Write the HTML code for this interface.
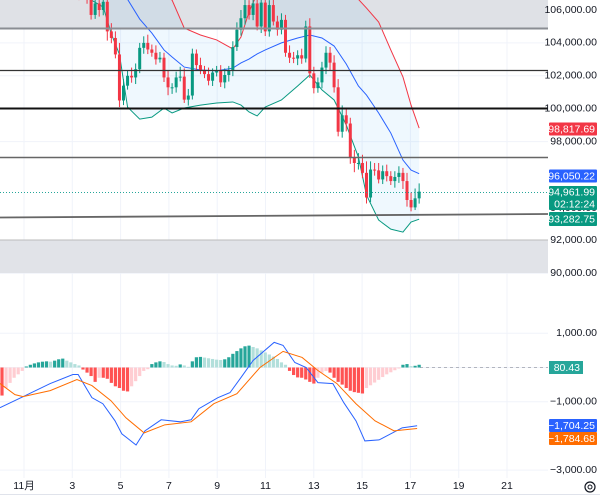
<!DOCTYPE html>
<html><head><meta charset="utf-8">
<style>
html,body{margin:0;padding:0;background:#fff;}
svg{display:block;font-family:"Liberation Sans","Noto Sans CJK SC",sans-serif;}
</style></head>
<body>
<svg id="chart" width="600" height="497" viewBox="0 0 600 497" xmlns="http://www.w3.org/2000/svg">
  <g id="grid"></g>
  <rect x="0" y="0" width="548" height="28" fill="#dfe1e6"/>
  <rect x="0" y="240" width="548" height="33" fill="#e1e3e8"/>
  <line x1="0" y1="240" x2="548" y2="240" stroke="#bbb" stroke-width="1"/>
  <g id="bands"></g>
  <g id="candles"></g>
  <g>
    <line x1="0" y1="28.5" x2="548" y2="28.5" stroke="#8a8d93" stroke-width="2"/>
    <line x1="0" y1="70.5" x2="548" y2="70.5" stroke="#333" stroke-width="1.2"/>
    <line x1="0" y1="108.5" x2="548" y2="108.5" stroke="#111" stroke-width="2"/>
    <line x1="0" y1="157.5" x2="548" y2="157.5" stroke="#666" stroke-width="1.5"/>
    <line x1="0" y1="192.5" x2="548" y2="192.5" stroke="#26a69a" stroke-width="1" stroke-dasharray="1,2"/>
    <line x1="0" y1="217.5" x2="548" y2="214" stroke="#666" stroke-width="1.8"/>
  </g>
  <g id="macd"></g>
  <g id="axis"></g>
  <line x1="0" y1="494.5" x2="600" y2="494.5" stroke="#e0e3eb"/>
  <g>
    <circle cx="590" cy="487" r="5" fill="none" stroke="#131722" stroke-width="1.2"/>
    <circle cx="590" cy="487" r="2" fill="none" stroke="#131722" stroke-width="1"/>
  </g>
</svg>
<script>
// ---- data ----
const closes = [107200,107500,107000,107800,108000,107600,107300,107900,108200,107700,
107400,107600,108100,107800,107500,107200,107600,107900,107300,107000,
106900,106700,105700,106400,106000,106500,104700,104300,103300,100500,
101400,102000,101900,102400,103700,104000,103600,103400,103000,103100,
101900,101300,101300,101900,101950,100550,100800,103350,102650,102300,
102100,101700,102200,102300,101600,102050,102300,103750,104800,105500,
106300,105700,106400,105000,106450,104700,106300,105300,104800,105400,
103400,103100,103050,103250,103050,105000,102150,101250,101600,102500,
103400,102800,101300,98600,99600,99100,97050,96700,96700,96100,
94600,96300,96250,95700,96200,95900,95600,95850,96100,95600,
94450,94000,94550,94960];
const wicks = [300,200,400,250,300,350,200,450,300,250,
300,400,200,350,300,250,400,300,200,350,
300,450,500,300,400,350,300,500,400,700,
400,300,500,350,300,400,500,300,450,350,
300,400,250,350,600,500,400,300,250,450,
300,400,250,300,350,400,300,350,450,500,
400,300,450,500,350,400,300,500,350,400,
300,450,350,300,400,350,500,400,300,350,
400,350,450,500,600,400,350,450,600,500,
700,500,400,450,350,400,300,350,400,300,
500,450,600,500];
const bandIdx = [0,10,20,25,27,29,31,34,37,40,42,45,49,53,57,59,61,63,65,69,73,76,79,82,85,88,90,93,96,99,101,103];
const bandMid = [107600,107700,107400,107100,107000,106900,106650,105450,104600,103570,103140,102530,102350,102300,102470,102780,103020,103330,103570,104000,104300,104480,104300,103810,102720,101380,100830,99740,98520,96880,96270,96050];
const bandUpper = [108600,108700,108500,108300,108000,107800,107600,107400,107200,106900,106600,104900,104480,104180,103630,104360,105880,107000,108000,108500,108700,108800,108600,108300,107600,106650,106120,105270,103570,101930,100220,98818];
const bandLower = [107000,107100,106900,106180,104540,103300,100100,99370,99490,100040,99740,100040,100220,100350,100410,100220,99800,99560,100100,100530,101380,102050,101140,100530,99010,97060,94750,93230,92680,92500,93110,93283];
const macdIdx = [-0.5,5.2,11.9,17.5,18.8,22.2,24.9,27.9,29.6,33.1,35.3,39.3,44,46.7,48.6,53.3,56.3,59,62,67.2,69.4,72.3,75.1,78,81.7,84.4,87.4,89.6,93.1,98.8,102.5];
const macdVals = [-1176,-853,-470,-206,-206,-882,-1059,-1559,-1941,-2265,-1853,-1529,-1588,-1529,-1206,-882,-735,-294,206,735,647,147,0,-441,-470,-1029,-1559,-2147,-2118,-1765,-1704];
const signalIdx = [-0.5,3.2,5.2,11.9,18.5,22.2,26.9,30.6,35.1,40.2,46.7,52.3,58,63.7,69.4,74.1,78,82.7,87.4,92.1,96.8,102.5];
const signalVals = [-470,-794,-853,-676,-353,-529,-971,-1471,-1912,-1676,-1588,-1059,-765,0,471,294,-88,-470,-1059,-1559,-1853,-1785];
const histVals = [-820,-600,-450,-300,-200,-100,30,80,120,150,
170,180,170,200,240,260,200,150,100,60,
-60,-150,-250,-420,-300,-300,-330,-450,-550,-600,
-680,-700,-550,-400,-250,-100,-50,100,150,180,
160,100,60,50,90,60,20,180,300,310,
290,270,250,230,220,240,300,400,480,560,
620,640,600,560,500,440,380,320,250,150,
80,-100,-220,-290,-300,-350,-420,-470,-300,-150,
-100,-150,-300,-420,-500,-600,-680,-720,-740,-760,
-600,-520,-440,-360,-280,-200,-140,-80,-30,80,
100,40,50,80];
const priceTicks = [106000,104000,102000,100000,98000,92000,90000];
const macdTicks = [1000,-1000,-3000];
const dayLabels = ["11月","3","5","7","9","11","13","15","17","19","21"];
const dayIndex = [0,2,4,6,8,10,12,14,16,18,20];

// ---- scales ----
const X = i => 2 + 4.05*i;
const dayX = d => 24 + 24.15*d/2*2/2*1; // d in day offset from 11月1日
const PY = p => 10 + (106000 - p)*0.01645;
const MY = v => 367.5 - v*0.0342;
const NS = "http://www.w3.org/2000/svg";
function mk(tag, attrs, parent){const e=document.createElementNS(NS,tag);for(const k in attrs)e.setAttribute(k,attrs[k]);parent.appendChild(e);return e;}

// grid
const grid = document.getElementById('grid');
priceTicks.forEach(p=>{const l=mk('line',{x1:0,x2:548,y1:PY(p),y2:PY(p),stroke:'#f0f3fa'},grid);

});
macdTicks.concat([0]).forEach(v=>{const l=mk('line',{x1:0,x2:548,y1:MY(v),y2:MY(v),stroke:'#f0f3fa'},grid);

});
dayIndex.forEach(d=>{const x=24+24.15*d;const l=mk('line',{x1:x,x2:x,y1:0,y2:478,stroke:'#f0f3fa'},grid);

});

// clip
const defs = mk('defs',{},document.getElementById('chart'));
const cp = mk('clipPath',{id:'pclip'},defs);
mk('rect',{x:0,y:0,width:548,height:285},cp);

// bands
const bands = document.getElementById('bands');
bands.setAttribute('clip-path','url(#pclip)');
const up = bandIdx.map((i,k)=>[X(i),PY(bandUpper[k])]);
const lo = bandIdx.map((i,k)=>[X(i),PY(bandLower[k])]);
const md = bandIdx.map((i,k)=>[X(i),PY(bandMid[k])]);
const fill = mk('polygon',{points:up.concat(lo.slice().reverse()).map(p=>p.join(',')).join(' '),fill:'rgba(33,150,243,0.07)'},bands);


[[up,'#f23645','upper-band'],[md,'#2962ff','middle-band'],[lo,'#089981','lower-band']].forEach(([pts,c,n])=>{
  const pl=mk('polyline',{points:pts.map(p=>p.join(',')).join(' '),fill:'none',stroke:c,'stroke-width':1},bands);
  
  
});

// candles
const cg = document.getElementById('candles');
cg.setAttribute('clip-path','url(#pclip)');
closes.forEach((c,i)=>{
  const o = i===0 ? c+300 : closes[i-1];
  const hi = Math.max(o,c)+wicks[i], lw = Math.min(o,c)-wicks[(i+3)%wicks.length]*0.8;
  const col = c>=o ? '#089981' : '#f23645';
  const x = X(i);
  const g = mk('g',{},cg);
  
  
  mk('line',{x1:x,x2:x,y1:PY(hi),y2:PY(lw),stroke:col,'stroke-width':1},g);
  const y1=PY(Math.max(o,c)), y2=PY(Math.min(o,c));
  mk('rect',{x:x-1.5,y:y1,width:3,height:Math.max(1,y2-y1),fill:col},g);
});

// macd
const mg = document.getElementById('macd');
const zl = mk('line',{x1:420,x2:548,y1:MY(0),y2:MY(0),stroke:'#b2b5be','stroke-dasharray':'3,3'},mg);


histVals.forEach((v,i)=>{
  const prev = i>0?histVals[i-1]:v;
  let col;
  if(v>=0) col = v>=prev ? '#26a69a' : '#b2dfdb';
  else col = v<=prev ? '#ff5252' : '#ffcdd2';
  const y0=MY(0), y=MY(v);
  const r = mk('rect',{x:X(i)-1.6,y:Math.min(y0,y),width:3.2,height:Math.max(0.8,Math.abs(y-y0)),fill:col},mg);
  
  
});
const ml = mk('polyline',{points:macdIdx.map((i,k)=>X(i)+','+MY(macdVals[k])).join(' '),fill:'none',stroke:'#2962ff','stroke-width':1},mg);


const sl = mk('polyline',{points:signalIdx.map((i,k)=>X(i)+','+MY(signalVals[k])).join(' '),fill:'none',stroke:'#ff6d00','stroke-width':1},mg);



// axis labels
const ax = document.getElementById('axis');
function txt(s,x,y,attrs,name){const t=mk('text',Object.assign({x:x,y:y,'font-size':'10.5','fill':'#131722','text-anchor':'end','dominant-baseline':'middle'},attrs||{}),ax);t.textContent=s;

return t;}
const fmt = v => (v<0?'−':'')+Math.abs(v).toLocaleString('en-US',{minimumFractionDigits:2,maximumFractionDigits:2});
priceTicks.forEach(p=>txt(fmt(p),597,PY(p),{}, 'price-tick-label'));
txt('94,000.00',597,208,{},'price-tick-label');
macdTicks.forEach(v=>txt(fmt(v),597,MY(v),{}, 'macd-tick-label'));
dayIndex.forEach((d,k)=>txt(dayLabels[k],24+24.15*d,486,{'text-anchor':'middle'},'time-tick-label'));
function box(lines,y,h,color,name){
  const r=mk('rect',{x:549,y:y,width:48,height:h,fill:color,rx:1},ax);
  
  
  lines.forEach((s,k)=>txt(s,595,y+h/lines.length*(k+0.5)+0.5,{fill:'#fff'},name+'-text'));
}
box(['98,817.69'],122.5,13,'#f23645','upper-band-label');
box(['96,050.22'],169.5,13,'#2962ff','middle-band-label');
box(['94,961.99','02:12:24'],186,24,'#089981','last-price-label');
box(['93,282.75'],212,14,'#089981','lower-band-label');
const b1=mk('rect',{x:549,y:361,width:34,height:13,fill:'#26a69a'},ax);


txt('80.43',580,368,{fill:'#fff'},'histogram-value');
box(['−1,704.25'],419,13,'#2962ff','macd-value-label');
box(['−1,784.68'],432,13,'#ff6d00','signal-value-label');
</script>
</body></html>
